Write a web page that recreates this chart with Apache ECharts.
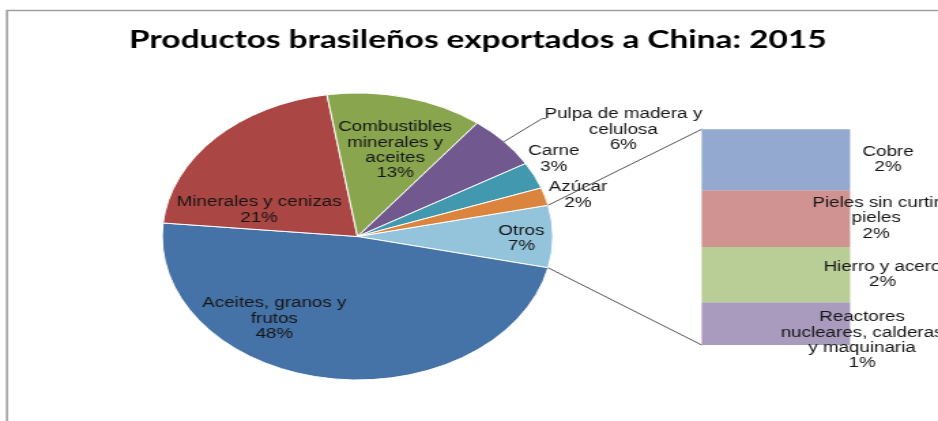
<!DOCTYPE html>
<html>
<head>
<meta charset="utf-8">
<script src="https://cdn.jsdelivr.net/npm/echarts@6/dist/echarts.min.js"></script>
<style>
  html, body { margin: 0; padding: 0; background: #fff; overflow: hidden; width: 938px; height: 421px; }
  /* the chart is laid out on a narrower canvas and widened to the page width */
  #chart { width: 689px; height: 421px; transform: scaleX(1.361393); transform-origin: 0 0; }
</style>
</head>
<body>
<div id="chart"></div>
<script>
// Exports to China, share of total (%)
const pieCategories = ['Otros', 'Aceites, granos y frutos', 'Minerales y cenizas',
  'Combustibles minerales y aceites', 'Pulpa de madera y celulosa', 'Carne', 'Azúcar'];
const pieLabelText = ['Otros', 'Aceites, granos y\nfrutos', 'Minerales y cenizas',
  'Combustibles\nminerales y\naceites', 'Pulpa de madera y\ncelulosa', 'Carne', 'Azúcar'];
const pieValues = [7, 48, 21, 13, 6, 3, 2];

// Breakdown of "Otros" (%)
const barCategories = ['Cobre', 'Pieles sin curtir pieles', 'Hierro y acero',
  'Reactores nucleares, calderas y maquinaria'];
const barLabelText = ['Cobre', 'Pieles sin curtir\npieles', 'Hierro y acero',
  'Reactores\nnucleares, calderas\ny maquinaria'];
const barValues = [1.98, 1.84, 1.79, 1.39];

const TITLE = 'Productos brasileños exportados a China: 2015';

// styling and layout
const pieColors = ['#93C4DC', '#4572A7', '#AA4643', '#89A54E', '#71588F', '#4198AF', '#DB843D'];
const barColors = ['#93A9CF', '#D19392', '#B9CD96', '#A99BBD'];
const pieLabelShift = [[22.8, 1.2], [-24.7, 4.2], [-8.9, 12.4], [4.5, -6.8], [69.6, -28.6], [38.3, -22.8], [45.1, -10.2]];
const barLabelShift = [[27.9, 0], [19.1, 0], [23.8, 0], [8.8, 17]];
const CX = 262.6, CY = 236.5, R = 143.5;
const GRID = { left: 515.4, top: 129.3, width: 109, height: 215.7 };
const FONT = 'Liberation Sans, Arial, sans-serif';

const pieTotal = pieValues.reduce((a, b) => a + b, 0);
const otrosIndex = 0;
const otrosSweep = pieValues[otrosIndex] / pieTotal * 360;
const startAngle = otrosSweep / 2; // "Otros" faces the bar

const chart = echarts.init(document.getElementById('chart'), null, { renderer: 'canvas' });

const baseLabel = { color: '#161616', fontFamily: FONT, fontSize: 13.8, lineHeight: 15.3 };

const barSeries = barCategories.map((name, i) => ({
  name: name,
  type: 'bar',
  stack: 'otros',
  barWidth: '100%',
  silent: true,
  data: [barValues[i]],
  itemStyle: { color: barColors[i] },
  z: 2,
  label: Object.assign({}, baseLabel, {
    show: true,
    position: ['100%', '50%'],
    offset: barLabelShift[i],
    align: 'center',
    verticalAlign: 'middle',
    formatter: () => barLabelText[i] + '\n' + Math.round(barValues[i] / pieTotal * 100) + '%'
  })
})).reverse(); // bottom of the stack first

chart.setOption({
  animation: false,
  backgroundColor: '#fff',
  title: {
    text: TITLE,
    left: 346,
    textAlign: 'center',
    top: 23,
    textStyle: { fontFamily: 'Lato, sans-serif', fontWeight: 'bold', fontSize: 24.5, color: '#000' }
  },
  grid: { left: GRID.left, top: GRID.top, width: GRID.width, height: GRID.height, containLabel: false },
  xAxis: { type: 'category', data: ['Otros'], show: false },
  yAxis: { type: 'value', min: 0, max: pieValues[otrosIndex], show: false },
  series: [
    {
      type: 'pie',
      center: [CX, CY],
      radius: R,
      startAngle: startAngle,
      clockwise: true,
      silent: true,
      avoidLabelOverlap: false,
      itemStyle: { borderColor: '#fff', borderWidth: 1 },
      label: Object.assign({}, baseLabel, {
        show: true,
        position: 'inside',
        formatter: p => pieLabelText[p.dataIndex] + '\n' + Math.round(p.percent) + '%'
      }),
      labelLine: { show: false },
      labelLayout: p => ({ dx: pieLabelShift[p.dataIndex][0], dy: pieLabelShift[p.dataIndex][1] }),
      data: pieCategories.map((name, i) => ({ name: name, value: pieValues[i], itemStyle: { color: pieColors[i] } }))
    }
  ].concat(barSeries)
});

// connector lines from the "Otros" slice to the stacked bar, and the leader for the small slice
function edgePoint(deg) {
  const a = deg * Math.PI / 180;
  return [CX + R * Math.cos(a), CY - R * Math.sin(a)];
}
const upper = edgePoint(startAngle);
const lower = edgePoint(startAngle - otrosSweep);
const barTopLeft = chart.convertToPixel({ gridIndex: 0 }, [0, pieValues[otrosIndex]]);
const barBottomLeft = chart.convertToPixel({ gridIndex: 0 }, [0, 0]);
const barHalf = GRID.width / 2;

// mid angle of the "Pulpa de madera y celulosa" slice
let acc = 0;
for (let i = 0; i < 4; i++) acc += pieValues[i];
const pulpaMid = startAngle - (acc + pieValues[4] / 2) / pieTotal * 360;
const pulpaEdge = edgePoint(pulpaMid);

const lineStyle = { stroke: '#555', lineWidth: 1 };
chart.setOption({
  graphic: [
    { type: 'rect', shape: { x: 5.1, y: 10.5, width: 800, height: 500 }, style: { fill: 'none', stroke: '#a0a0a0', lineWidth: 1.6 }, silent: true, z: 0 },
    { type: 'line', shape: { x1: upper[0], y1: upper[1], x2: barTopLeft[0] - barHalf, y2: barTopLeft[1] }, style: lineStyle, silent: true, z: 10 },
    { type: 'line', shape: { x1: lower[0], y1: lower[1], x2: barBottomLeft[0] - barHalf, y2: barBottomLeft[1] }, style: lineStyle, silent: true, z: 10 },
    { type: 'polyline', shape: { points: [pulpaEdge, [pulpaEdge[0] + 28, pulpaEdge[1] - 23], [pulpaEdge[0] + 31, pulpaEdge[1] - 23]] }, style: { stroke: '#555', lineWidth: 1, fill: 'none' }, silent: true, z: 10 }
  ]
});
</script>
</body>
</html>
